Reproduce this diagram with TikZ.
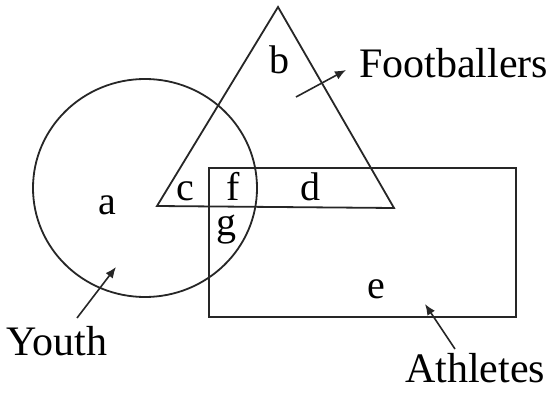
\documentclass[tikz,border=0pt]{standalone}
\usepackage{fontspec}
\setmainfont{Liberation Serif}
\usetikzlibrary{arrows.meta}
\begin{document}
\begin{tikzpicture}[x=1pt,y=-1pt,
  outline/.style={draw=black!85,line width=1.8pt},
  lbl/.style={font=\fontsize{40}{44}\selectfont,inner sep=0pt,anchor=base},
  setname/.style={font=\fontsize{42}{46}\selectfont,inner sep=0pt,anchor=base west},
  pointer/.style={draw=black!85,line width=1.6pt,-{Latex[length=11pt,width=9pt]}}]
\useasboundingbox (0,0) rectangle (553,393);
\fill[white] (0,0) rectangle (553,393);
% shapes
\draw[outline] (145,188) ellipse [x radius=112,y radius=109];
\draw[outline] (278,7) -- (394,208) -- (157,206) -- cycle;
\draw[outline] (209,168) rectangle (516,317);
% region labels
\node[lbl] (a) at (107,214) {a};
\node[lbl] (b) at (279,74) {b};
\node[lbl] (c) at (185,200) {c};
\node[lbl] (f) at (233,200) {f};
\node[lbl] (d) at (310,200) {d};
\node[lbl] (g) at (226,235) {g};
\node[lbl] (e) at (376,298) {e};
% set names
\node[setname] (fb) at (359,78) {Footballers};
\node[setname] (yo) at (6,355) {Youth};
\node[setname] (at) at (405,382) {Athletes};
% pointers
\coordinate (fbt) at (296,97);
\coordinate (fbh) at (346,70);
\coordinate (yot) at (77,318);
\coordinate (yoh) at (116,267);
\coordinate (att) at (455,349);
\coordinate (ath) at (425,304);
\draw[pointer] (fbt) -- (fbh);
\draw[pointer] (yot) -- (yoh);
\draw[pointer] (att) -- (ath);
\end{tikzpicture}
\end{document}
